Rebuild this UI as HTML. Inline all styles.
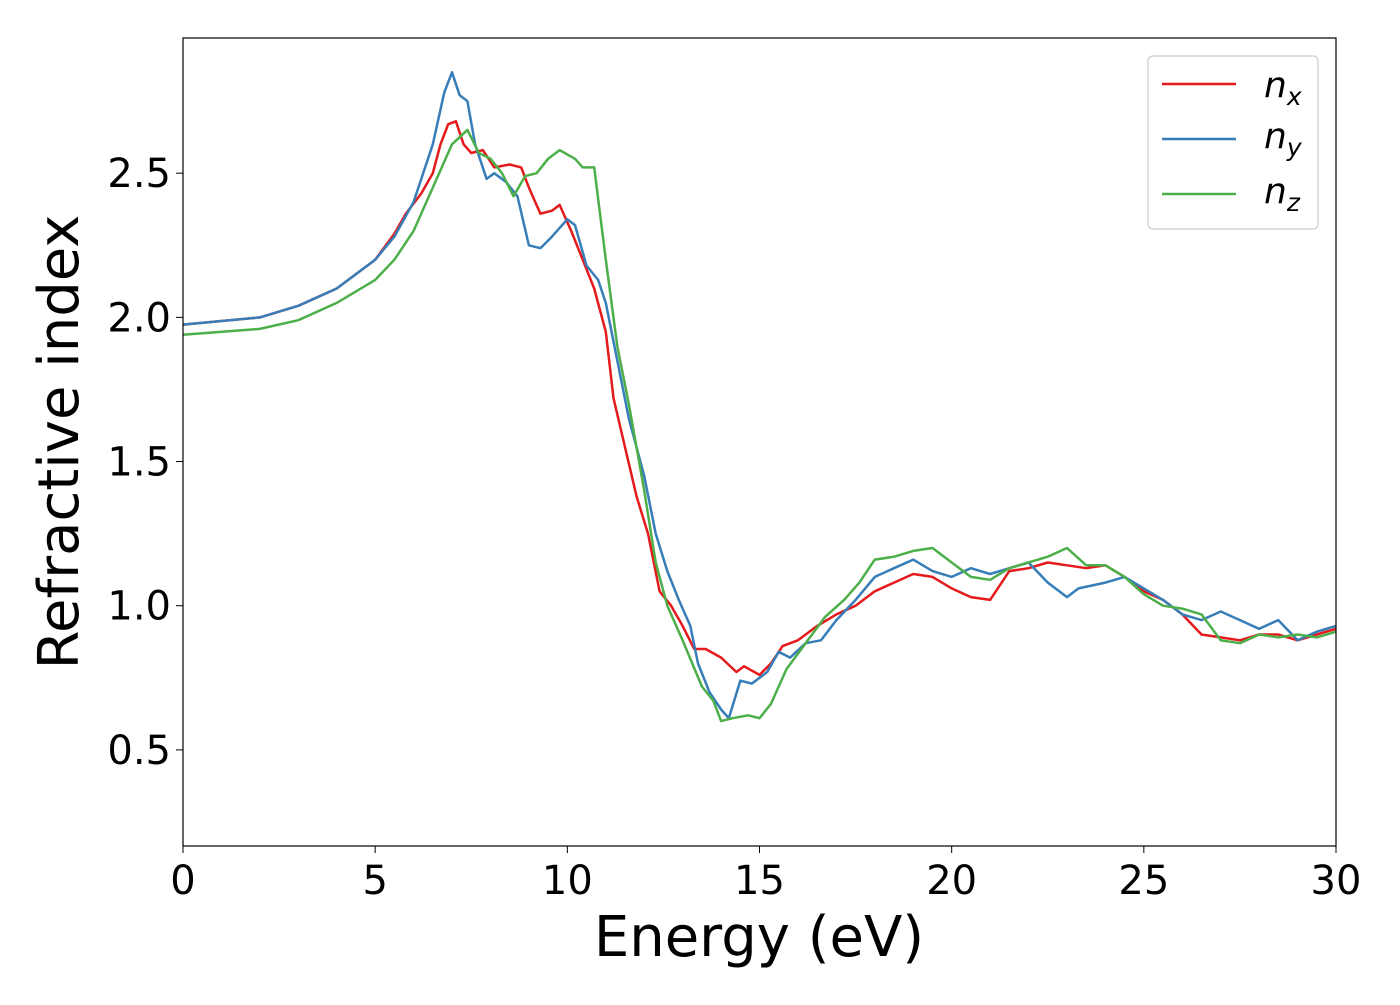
<!DOCTYPE html>
<html><head><meta charset="utf-8"><style>
body{margin:0;background:#fff;}
svg text{font-family:"DejaVu Sans","Liberation Sans",sans-serif;fill:#000;}
</style></head><body>
<svg id="chart" width="1400" height="1000" xmlns="http://www.w3.org/2000/svg">
<rect width="1400" height="1000" fill="#fff"/>
<g id="series"></g>
<rect x="183" y="38" width="1153" height="808" fill="none" stroke="#000" stroke-width="1.2"/>
<g id="ticks"></g>
<text x="759" y="956" font-size="56" text-anchor="middle">Energy (eV)</text>
<text transform="translate(78,442) rotate(-90)" font-size="56" text-anchor="middle">Refractive index</text>
<g>
<rect x="1148" y="56" width="170" height="173" rx="5" fill="#fff" stroke="#ccc" stroke-width="1.2"/>
<line x1="1162" y1="84" x2="1236" y2="84" stroke="#e41a1c" stroke-width="2.5"/>
<text x="1264" y="97" font-size="36" font-style="italic">n<tspan font-size="25" dy="8">x</tspan></text>
<line x1="1162" y1="139" x2="1236" y2="139" stroke="#377eb8" stroke-width="2.5"/>
<text x="1264" y="148" font-size="36" font-style="italic">n<tspan font-size="25" dy="8">y</tspan></text>
<line x1="1162" y1="194" x2="1236" y2="194" stroke="#4daf4a" stroke-width="2.5"/>
<text x="1264" y="203" font-size="36" font-style="italic">n<tspan font-size="25" dy="8">z</tspan></text>
</g>
</svg>
<script>
const xTicks=[0,5,10,15,20,25,30];
const yTicks=[0.5,1.0,1.5,2.0,2.5];
const yTickLabels=["0.5","1.0","1.5","2.0","2.5"];
const nxX=[0,2,3,4,5,5.5,5.8,6.2,6.5,6.7,6.9,7.1,7.3,7.5,7.8,8.1,8.5,8.8,9.0,9.3,9.6,9.8,10.1,10.4,10.7,11.0,11.2,11.5,11.8,12.1,12.4,12.7,13.0,13.3,13.6,14.0,14.4,14.6,15.0,15.3,15.6,16.0,16.5,17,17.5,18,18.5,19,19.5,20,20.5,21,21.5,22,22.5,23,23.5,24,24.5,25,25.5,26,26.5,27,27.5,28,28.5,29,29.5,30];
const nxY=[1.975,2.0,2.04,2.1,2.2,2.29,2.36,2.43,2.5,2.6,2.67,2.68,2.6,2.57,2.58,2.52,2.53,2.52,2.45,2.36,2.37,2.39,2.3,2.2,2.1,1.95,1.72,1.55,1.38,1.25,1.05,1.0,0.93,0.85,0.85,0.82,0.77,0.79,0.76,0.8,0.86,0.88,0.93,0.97,1.0,1.05,1.08,1.11,1.1,1.06,1.03,1.02,1.12,1.13,1.15,1.14,1.13,1.14,1.1,1.05,1.02,0.97,0.9,0.89,0.88,0.9,0.9,0.88,0.9,0.92];
const nyX=[0,2,3,4,5,5.5,6,6.5,6.8,7.0,7.2,7.4,7.6,7.9,8.1,8.4,8.7,9.0,9.3,9.6,10.0,10.2,10.5,10.8,11.0,11.3,11.6,12.0,12.3,12.6,12.9,13.2,13.4,13.7,14.0,14.2,14.5,14.8,15.2,15.5,15.8,16.2,16.6,17,17.5,18,18.5,19,19.5,20,20.5,21,21.5,22,22.5,23,23.3,24,24.5,25,25.5,26,26.5,27,27.5,28,28.5,29,29.5,30];
const nyY=[1.975,2.0,2.04,2.1,2.2,2.28,2.4,2.6,2.78,2.85,2.77,2.75,2.6,2.48,2.5,2.47,2.42,2.25,2.24,2.28,2.34,2.32,2.18,2.13,2.05,1.85,1.65,1.45,1.25,1.12,1.02,0.93,0.8,0.7,0.64,0.61,0.74,0.73,0.77,0.84,0.82,0.87,0.88,0.95,1.02,1.1,1.13,1.16,1.12,1.1,1.13,1.11,1.13,1.15,1.08,1.03,1.06,1.08,1.1,1.06,1.02,0.97,0.95,0.98,0.95,0.92,0.95,0.88,0.91,0.93];
const nzX=[0,2,3,4,5,5.5,6,6.5,7,7.4,7.7,8,8.3,8.6,8.9,9.2,9.5,9.8,10.2,10.4,10.7,11.0,11.3,11.6,12.0,12.3,12.6,13.0,13.5,13.8,14.0,14.3,14.7,15.0,15.3,15.7,16.2,16.7,17.2,17.6,18.0,18.5,19,19.5,20,20.5,21,21.5,22,22.5,23,23.5,24,24.5,25,25.5,26,26.5,27,27.5,28,28.5,29,29.5,30];
const nzY=[1.94,1.96,1.99,2.05,2.13,2.2,2.3,2.45,2.6,2.65,2.57,2.55,2.5,2.42,2.49,2.5,2.55,2.58,2.55,2.52,2.52,2.2,1.9,1.7,1.4,1.15,1.0,0.88,0.72,0.67,0.6,0.61,0.62,0.61,0.66,0.78,0.87,0.96,1.02,1.08,1.16,1.17,1.19,1.2,1.15,1.1,1.09,1.13,1.15,1.17,1.2,1.14,1.14,1.1,1.04,1.0,0.99,0.97,0.88,0.87,0.9,0.89,0.9,0.89,0.91];
const X0=183,X1=1336,Xmin=0,Xmax=30;
const Y0=846,Y1=38,Ymin=0.1667,Ymax=2.9688;
function sx(v){return X0+(v-Xmin)/(Xmax-Xmin)*(X1-X0);}
function sy(v){return Y0-(v-Ymin)/(Ymax-Ymin)*(Y0-Y1);}
const NS="http://www.w3.org/2000/svg";
const sg=document.getElementById('series');
function drawLine(xs,ys,color,name){
  const p=document.createElementNS(NS,'polyline');
  p.setAttribute('points',xs.map((x,i)=>sx(x).toFixed(1)+','+sy(ys[i]).toFixed(1)).join(' '));
  p.setAttribute('fill','none');p.setAttribute('stroke',color);p.setAttribute('stroke-width','2.5');
  p.setAttribute('stroke-linejoin','round');
  
  
  sg.appendChild(p);
}
drawLine(nxX,nxY,'#e41a1c','series-nx');
drawLine(nyX,nyY,'#377eb8','series-ny');
drawLine(nzX,nzY,'#4daf4a','series-nz');
const tg=document.getElementById('ticks');
xTicks.forEach(v=>{
  const l=document.createElementNS(NS,'line');
  l.setAttribute('x1',sx(v));l.setAttribute('x2',sx(v));l.setAttribute('y1',Y0);l.setAttribute('y2',Y0+7);l.setAttribute('stroke','#000');
  
  
  tg.appendChild(l);
  const t=document.createElementNS(NS,'text');
  t.setAttribute('x',sx(v));t.setAttribute('y',894);t.setAttribute('font-size','40');t.setAttribute('text-anchor','middle');
  t.textContent=String(v);
  
  
  tg.appendChild(t);
});
yTicks.forEach((v,i)=>{
  const l=document.createElementNS(NS,'line');
  l.setAttribute('x1',X0-7);l.setAttribute('x2',X0);l.setAttribute('y1',sy(v));l.setAttribute('y2',sy(v));l.setAttribute('stroke','#000');
  
  
  tg.appendChild(l);
  const t=document.createElementNS(NS,'text');
  t.setAttribute('x',171);t.setAttribute('y',sy(v)+14);t.setAttribute('font-size','40');t.setAttribute('text-anchor','end');
  t.textContent=yTickLabels[i];
  
  
  tg.appendChild(t);
});
</script>
</body></html>
